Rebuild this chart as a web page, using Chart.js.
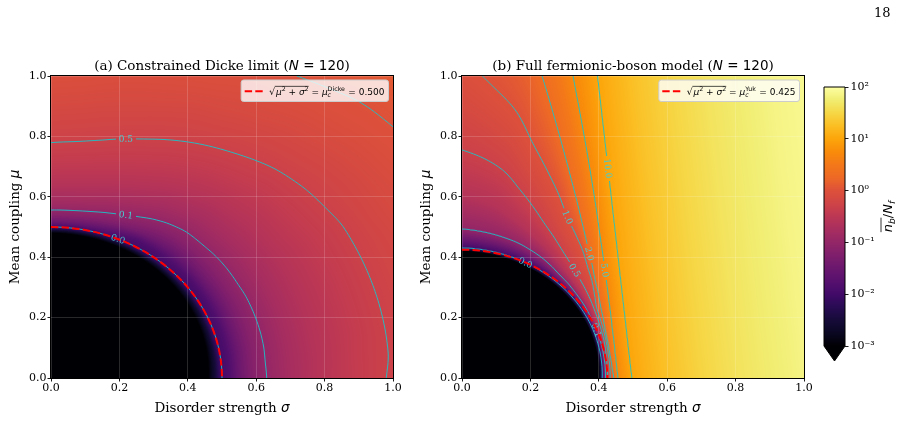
<!DOCTYPE html>
<html><head><meta charset="utf-8"><title>Boson occupation maps</title>
<script src="https://cdn.jsdelivr.net/npm/chart.js@4.4.1/dist/chart.umd.min.js"></script>
<style>
html,body{margin:0;padding:0;background:#fff;overflow:hidden}
#wrap{position:relative;width:907px;height:421px;background:#fff}
#wrap canvas{position:absolute;left:0;top:0}
#page{position:absolute;left:874px;top:5px;font:13px "DejaVu Serif";line-height:15px;color:#000}
</style></head><body>
<div id="wrap">
<canvas id="panelA" width="907" height="421"></canvas>
<canvas id="panelB" width="907" height="421"></canvas>
<canvas id="cbar" width="907" height="421"></canvas>
<div id="page">18</div>
</div>
<script>
// ---------------- data ----------------
const sigmaTicks = [0, 0.2, 0.4, 0.6, 0.8, 1.0];
const muTicks = [0, 0.2, 0.4, 0.6, 0.8, 1.0];
const colorbarTicks = [1e-3, 1e-2, 1e-1, 1, 10, 100];
const contourLevels = [0.01, 0.1, 0.5, 1.0, 2.0, 5.0, 10.0];
const muCritDicke = 0.500;
const muCritYuk = 0.425;

// (a) log10(n_b/N_f) sampled on a polar grid: rows = angle atan(mu/sigma) [deg], columns = radius sqrt(mu^2+sigma^2)
const gridAngleDicke = [0, 5, 10, 15, 20, 25, 30, 35, 40, 45, 50, 55, 60, 65, 70, 75, 80, 85, 90];
const gridRadiusDicke = [0, 0.38, 0.40, 0.41, 0.42, 0.43, 0.44, 0.45, 0.46, 0.48, 0.50, 0.52, 0.55, 0.60, 0.70, 0.80, 0.90, 1.00, 1.10, 1.20, 1.30, 1.42];
const logBosonDicke = [
  [-4,-4,-4,-4,-4,-4,-3.60,-3.30,-3.00,-2.50,-2,-1.85,-1.50,-1.14,-0.77,-0.55,-0.40,-0.28,-0.19,-0.11,-0.04,0.04],
  [-4,-4,-4,-4,-4,-4,-3.62,-3.33,-3.04,-2.53,-2,-1.85,-1.50,-1.13,-0.77,-0.56,-0.40,-0.29,-0.19,-0.11,-0.04,0.04],
  [-4,-4,-4,-4,-4,-4,-3.64,-3.36,-3.08,-2.56,-2,-1.85,-1.51,-1.14,-0.77,-0.56,-0.41,-0.29,-0.19,-0.11,-0.04,0.04],
  [-4,-4,-4,-4,-4,-4,-3.67,-3.38,-3.12,-2.58,-2,-1.85,-1.50,-1.14,-0.77,-0.56,-0.41,-0.29,-0.19,-0.11,-0.04,0.04],
  [-4,-4,-4,-4,-4,-4,-3.69,-3.41,-3.16,-2.61,-2,-1.85,-1.50,-1.14,-0.77,-0.56,-0.41,-0.29,-0.19,-0.11,-0.03,0.04],
  [-4,-4,-4,-4,-4,-4,-3.71,-3.44,-3.19,-2.64,-2,-1.85,-1.50,-1.14,-0.77,-0.56,-0.41,-0.29,-0.19,-0.10,-0.03,0.05],
  [-4,-4,-4,-4,-4,-4,-3.73,-3.47,-3.23,-2.67,-2,-1.85,-1.50,-1.13,-0.77,-0.56,-0.41,-0.29,-0.18,-0.10,-0.02,0.06],
  [-4,-4,-4,-4,-4,-4,-3.76,-3.49,-3.27,-2.69,-2,-1.85,-1.49,-1.13,-0.77,-0.55,-0.40,-0.28,-0.18,-0.09,-0.01,0.07],
  [-4,-4,-4,-4,-4,-4,-3.78,-3.52,-3.31,-2.72,-2,-1.85,-1.49,-1.13,-0.76,-0.55,-0.39,-0.27,-0.17,-0.08,0.00,0.08],
  [-4,-4,-4,-4,-4,-4,-3.80,-3.55,-3.35,-2.75,-2,-1.85,-1.50,-1.12,-0.75,-0.53,-0.38,-0.25,-0.15,-0.06,0.01,0.10],
  [-4,-4,-4,-4,-4,-4,-3.82,-3.58,-3.39,-2.78,-2,-1.85,-1.50,-1.12,-0.74,-0.51,-0.35,-0.23,-0.13,-0.04,0.03,0.11],
  [-4,-4,-4,-4,-4,-4,-3.84,-3.61,-3.43,-2.81,-2,-1.85,-1.47,-1.09,-0.70,-0.48,-0.32,-0.20,-0.10,-0.02,0.05,0.13],
  [-4,-4,-4,-4,-4,-4,-3.87,-3.63,-3.47,-2.83,-2,-1.85,-1.40,-1.03,-0.66,-0.44,-0.29,-0.17,-0.08,0.00,0.07,0.15],
  [-4,-4,-4,-4,-4,-4,-3.89,-3.66,-3.51,-2.86,-2,-1.76,-1.30,-0.95,-0.60,-0.40,-0.26,-0.15,-0.05,0.02,0.09,0.16],
  [-4,-4,-4,-4,-4,-4,-3.91,-3.69,-3.54,-2.89,-2,-1.64,-1.21,-0.88,-0.55,-0.36,-0.23,-0.12,-0.03,0.04,0.10,0.17],
  [-4,-4,-4,-4,-4,-4,-3.93,-3.72,-3.58,-2.92,-2,-1.55,-1.14,-0.83,-0.51,-0.33,-0.20,-0.10,-0.01,0.06,0.12,0.18],
  [-4,-4,-4,-4,-4,-4,-3.96,-3.74,-3.62,-2.94,-2,-1.49,-1.09,-0.78,-0.48,-0.30,-0.18,-0.08,0.00,0.07,0.13,0.19],
  [-4,-4,-4,-4,-4,-4,-3.98,-3.77,-3.66,-2.97,-2,-1.45,-1.06,-0.76,-0.46,-0.28,-0.16,-0.06,0.01,0.08,0.14,0.20],
  [-4,-4,-4,-4,-4,-4,-4.00,-3.80,-3.70,-3.00,-2,-1.45,-1.05,-0.75,-0.45,-0.27,-0.15,-0.05,0.02,0.09,0.14,0.20]
];

// (b) log10(n_b/N_f) given as iso-level radii: for each level, radius sqrt(mu^2+sigma^2) at each angle
const gridAngleFull = [0, 5, 10, 15, 20, 25, 30, 35, 40, 45, 50, 55, 60, 65, 70, 75, 80, 85, 90];
const levelLogFull = [-4, -3, -2, -1.5, -1, -0.6, -0.301, -0.15, 0, 0.301, 0.699, 1.0, 1.15, 1.28, 1.47, 1.62, 1.74, 1.84, 1.98];
const levelRadiusFull = [
  [.390,.3911,.3922,.3933,.3944,.3956,.3967,.3978,.3989,.400,.4011,.4022,.4033,.4044,.4056,.4067,.4078,.4089,.410],
  [.400,.4011,.4022,.4033,.4044,.4056,.4067,.4078,.4089,.410,.4111,.4122,.4133,.4144,.4156,.4167,.4178,.4189,.420],
  [.410,.4111,.4122,.4133,.4144,.4156,.4167,.4178,.4189,.420,.4211,.4222,.4233,.4244,.4256,.4267,.4278,.4289,.430],
  [.4145,.4153,.4162,.4172,.4183,.4201,.4218,.424,.4261,.429,.4319,.4363,.4407,.4445,.4483,.4509,.4535,.4559,.4584],
  [.420,.4205,.421,.422,.423,.4255,.428,.4315,.435,.440,.445,.4535,.462,.469,.476,.4805,.485,.489,.493],
  [.4221,.4228,.4239,.4262,.4285,.432,.4364,.4422,.4484,.4564,.4656,.4785,.4939,.5102,.5302,.5509,.574,.5902,.603],
  [.425,.426,.428,.432,.436,.441,.448,.457,.467,.479,.494,.513,.538,.567,.605,.648,.697,.730,.755],
  [.4287,.4296,.4312,.4347,.4387,.4442,.4516,.4647,.4805,.4975,.5192,.5432,.5731,.6134,.6613,.7178,.7884,.8403,.8923],
  [.433,.434,.435,.438,.442,.448,.456,.474,.497,.520,.550,.580,.616,.670,.730,.803,.900,.975,1.06],
  [.444,.4399,.4391,.4417,.4465,.4562,.4685,.4865,.5075,.5365,.571,.6157,.673,.746,.842,.970,1.145,1.39,1.74],
  [.455,.4532,.4545,.4597,.4676,.4802,.4968,.5185,.546,.5815,.626,.684,.758,.855,.985,1.168,1.43,1.90,2.60],
  [.496,.4936,.4949,.5001,.5093,.5229,.5415,.5658,.5974,.6377,.6895,.7567,.8456,.9665,1.1376,1.3956,1.823,2.655,4.96],
  [.550,.5473,.5488,.5545,.5647,.5798,.6004,.6274,.6624,.7071,.7645,.8391,.9376,1.0717,1.2615,1.5475,2.021,2.944,5.5],
  [.600,.5971,.5987,.6050,.6161,.6325,.6550,.6845,.7226,.7714,.8340,.9153,1.0229,1.1691,1.3761,1.6882,2.205,3.212,6.0],
  [.700,.6966,.6985,.7058,.7188,.7379,.7642,.7985,.8431,.9000,.9730,1.0679,1.1933,1.3640,1.6055,1.9696,2.573,3.747,7.0],
  [.800,.7961,.7982,.8066,.8214,.8433,.8734,.9126,.9635,1.0285,1.1120,1.2204,1.3638,1.5588,1.8349,2.251,2.940,4.283,8.0],
  [.900,.8956,.8980,.9074,.9241,.9488,.9825,1.0267,1.0840,1.1571,1.2510,1.3730,1.5343,1.7537,2.0642,2.532,3.308,4.818,9.0],
  [1.0,.9951,.9978,1.0083,1.0268,1.0542,1.0917,1.1408,1.2044,1.2857,1.3900,1.5256,1.7047,1.9486,2.2936,2.814,3.675,5.353,10.0],
  [1.2,1.1941,1.1974,1.2099,1.2322,1.2650,1.3100,1.3689,1.4453,1.5428,1.6681,1.8307,2.0457,2.3383,2.7523,3.376,4.41,6.424,12.0]
];

// ---------------- styling ----------------
const FONT_SERIF = '"DejaVu Serif", "Liberation Serif", serif';
const FONT_SANS = '"DejaVu Sans", "Liberation Sans", sans-serif';
const INFERNO = ['#000004','#0a0722','#160b39','#280b53','#420a68','#57106e','#6a176e','#7f1e6c','#932667','#a82e5f','#bc3754','#cf4446','#dd513a','#ed6925','#f37819','#f98c0a','#fca50a','#fbbe23','#f6d746','#f1ed71','#fcffa4'];
const RGB = INFERNO.map(h => [parseInt(h.slice(1,3),16), parseInt(h.slice(3,5),16), parseInt(h.slice(5,7),16)]);
const LOG_MIN = Math.log10(colorbarTicks[0]), LOG_MAX = Math.log10(colorbarTicks[colorbarTicks.length-1]);
const CONTOUR_COLOR = 'rgb(25,196,202)';
const LABEL_COLOR = 'rgb(70,205,210)';

function cmap(L) {
  let t = (L - LOG_MIN) / (LOG_MAX - LOG_MIN);
  if (!(t > 0)) t = 0; if (t > 1) t = 1;
  const f = t * (RGB.length - 1);
  const i = Math.min(RGB.length - 2, Math.floor(f));
  const u = f - i, c0 = RGB[i], c1 = RGB[i+1];
  return [c0[0] + (c1[0]-c0[0])*u, c0[1] + (c1[1]-c0[1])*u, c0[2] + (c1[2]-c0[2])*u];
}

// monotone (PCHIP) shading between samples
function pchipSlopes(x, y) {
  const n = x.length, d = [], m = new Array(n);
  for (let k = 0; k < n-1; k++) d.push((y[k+1]-y[k])/(x[k+1]-x[k]));
  m[0] = d[0]; m[n-1] = d[n-2];
  for (let k = 1; k < n-1; k++) {
    if (d[k-1]*d[k] <= 0) m[k] = 0;
    else { const h0 = x[k]-x[k-1], h1 = x[k+1]-x[k]; const w1 = 2*h1+h0, w2 = h1+2*h0; m[k] = (w1+w2)/(w1/d[k-1] + w2/d[k]); }
  }
  return m;
}
function hermite(x, y, m, k, t) {
  const h = x[k+1]-x[k], s = (t - x[k])/h, s2 = s*s, s3 = s2*s;
  return (2*s3-3*s2+1)*y[k] + (s3-2*s2+s)*h*m[k] + (-2*s3+3*s2)*y[k+1] + (s3-s2)*h*m[k+1];
}
function polar(s, mu) {
  return [Math.sqrt(s*s + mu*mu), Math.atan2(Math.max(mu, 0), Math.max(s, 0)) * 180 / Math.PI];
}
// field from a value grid (panel a)
function makeGridField(angles, radii, grid) {
  const slopes = grid.map(row => pchipSlopes(radii, row));
  const rMax = radii[radii.length-1];
  return function(s, mu) {
    let [r, th] = polar(s, mu); if (r > rMax) r = rMax;
    let ri = 0; while (ri < radii.length-2 && r > radii[ri+1]) ri++;
    let ai = 0; while (ai < angles.length-2 && th > angles[ai+1]) ai++;
    const i0 = Math.max(0, ai-1), i1 = Math.min(angles.length-1, ai+2);
    const vals = [], angs = [];
    for (let i = i0; i <= i1; i++) { vals.push(hermite(radii, grid[i], slopes[i], ri, r)); angs.push(angles[i]); }
    return hermite(angs, vals, pchipSlopes(angs, vals), ai - i0, th);
  };
}
// field from iso-level radii (panel b)
function makeLevelField(angles, levels, radiiByLevel) {
  const slopes = radiiByLevel.map(row => pchipSlopes(angles, row));
  return function(s, mu) {
    const [r, th] = polar(s, mu);
    let ai = 0; while (ai < angles.length-2 && th > angles[ai+1]) ai++;
    let prevR = -Infinity, prevL = levels[0];
    for (let i = 0; i < levels.length; i++) {
      let ri = hermite(angles, radiiByLevel[i], slopes[i], ai, th);
      if (ri <= prevR) ri = prevR + 1e-6;
      if (r < ri) {
        if (i === 0) return levels[0];
        return prevL + (levels[i] - prevL) * (r - prevR) / (ri - prevR);
      }
      prevR = ri; prevL = levels[i];
    }
    return levels[levels.length-1];
  };
}

function marching(F, W, H, L, emit) {
  const N = W + 1;
  for (let j = 0; j < H; j++) {
    for (let i = 0; i < W; i++) {
      const a = F[j*N+i], b = F[j*N+i+1], c = F[(j+1)*N+i+1], d = F[(j+1)*N+i];
      const idx = (a > L ? 8 : 0) | (b > L ? 4 : 0) | (c > L ? 2 : 0) | (d > L ? 1 : 0);
      if (idx === 0 || idx === 15) continue;
      const T = () => [i + (L-a)/(b-a), j];
      const Rt = () => [i+1, j + (L-b)/(c-b)];
      const B = () => [i + (L-d)/(c-d), j+1];
      const Lf = () => [i, j + (L-a)/(d-a)];
      switch (idx) {
        case 1: case 14: emit(Lf(), B()); break;
        case 2: case 13: emit(B(), Rt()); break;
        case 3: case 12: emit(Lf(), Rt()); break;
        case 4: case 11: emit(T(), Rt()); break;
        case 5: emit(Lf(), T()); emit(B(), Rt()); break;
        case 6: case 9: emit(T(), B()); break;
        case 7: case 8: emit(Lf(), T()); break;
        case 10: emit(T(), Rt()); emit(Lf(), B()); break;
      }
    }
  }
}

function drawRich(ctx, parts, x, y) {
  for (const p of parts) { ctx.font = p.f; ctx.fillText(p.t, x, y + (p.dy || 0)); x += ctx.measureText(p.t).width; }
  return x;
}
function richWidth(ctx, parts) {
  let w = 0; for (const p of parts) { ctx.font = p.f; w += ctx.measureText(p.t).width; } return w;
}

const TS = 13.5;
const serif = s => s + 'px ' + FONT_SERIF;
const sans = s => s + 'px ' + FONT_SANS;
const isans = s => 'italic ' + s + 'px ' + FONT_SANS;

function drawLegend(ctx, a, supText, value) {
  const fs = 9, ss = 6.3;
  ctx.save();
  ctx.font = sans(fs);
  const wRad = ctx.measureText('\u221A').width;
  const radicand = [{t:'\u03BC', f:isans(fs)}, {t:'2', f:sans(ss), dy:-3.6}, {t:' + ', f:sans(fs)}, {t:'\u03C3', f:isans(fs)}, {t:'2', f:sans(ss), dy:-3.6}];
  const wRc = richWidth(ctx, radicand);
  const mid1 = [{t:' = ', f:sans(fs)}, {t:'\u03BC', f:isans(fs)}];
  const wM1 = richWidth(ctx, mid1);
  ctx.font = sans(ss); const wSup = ctx.measureText(supText).width;
  const tail = [{t:' = ' + value, f:sans(fs)}];
  const wTail = richWidth(ctx, tail);
  const textW = wRad + 1 + wRc + wM1 + wSup + 0.5 + wTail;
  const lineLen = 18, padL = 3.5, gap = 6.5, padR = 4;
  const boxW = padL + lineLen + gap + textW + padR, boxH = 21.5;
  const bx = a.right - 4.5 - boxW, by = a.top + 4;
  ctx.beginPath();
  if (ctx.roundRect) ctx.roundRect(bx, by, boxW, boxH, 2.5); else ctx.rect(bx, by, boxW, boxH);
  ctx.fillStyle = 'rgba(255,255,255,0.8)'; ctx.fill();
  ctx.strokeStyle = '#cccccc'; ctx.lineWidth = 1; ctx.stroke();
  const cy = by + boxH/2 + 0.5;
  ctx.beginPath(); ctx.setLineDash([7.4, 3.2]); ctx.strokeStyle = '#ff0000'; ctx.lineWidth = 2;
  ctx.moveTo(bx + padL, cy); ctx.lineTo(bx + padL + lineLen, cy); ctx.stroke(); ctx.setLineDash([]);
  ctx.fillStyle = '#000'; ctx.textBaseline = 'alphabetic'; ctx.textAlign = 'left';
  let x = bx + padL + lineLen + gap; const base = cy + 3.4;
  ctx.font = sans(fs); ctx.fillText('\u221A', x, base + 0.5); x += wRad + 1;
  const x0 = x - 1.2;
  x = drawRich(ctx, radicand, x, base);
  ctx.beginPath(); ctx.lineWidth = 0.7; ctx.strokeStyle = '#000';
  ctx.moveTo(x0, base - 8.3); ctx.lineTo(x, base - 8.3); ctx.stroke();
  x = drawRich(ctx, mid1, x, base);
  ctx.font = isans(ss); ctx.fillText('c', x, base + 2.2);
  ctx.font = sans(ss); ctx.fillText(supText, x, base - 3.8);
  x += wSup + 0.5;
  drawRich(ctx, tail, x, base);
  ctx.restore();
}

function panelPlugin(spec) {
  const field = spec.field;
  return {
    id: 'panel' + spec.key,
    beforeDraw(chart) {
      const {ctx, chartArea: a, scales: {x: xs, y: ys}} = chart;
      const W = Math.round(a.right - a.left), H = Math.round(a.bottom - a.top);
      const off = document.createElement('canvas'); off.width = W; off.height = H;
      const o = off.getContext('2d'); const img = o.createImageData(W, H);
      for (let j = 0; j < H; j++) {
        const mu = ys.getValueForPixel(a.top + j + 0.5);
        for (let i = 0; i < W; i++) {
          const s = xs.getValueForPixel(a.left + i + 0.5);
          const c = cmap(field(s, mu));
          const k = (j*W + i) * 4;
          img.data[k] = c[0]; img.data[k+1] = c[1]; img.data[k+2] = c[2]; img.data[k+3] = 255;
        }
      }
      o.putImageData(img, 0, 0);
      ctx.drawImage(off, a.left, a.top);
    },
    afterDraw(chart) {
      const {ctx, chartArea: a, scales: {x: xs, y: ys}} = chart;
      const W = Math.round(a.right - a.left), H = Math.round(a.bottom - a.top);
      const f = (X, Y) => field(xs.getValueForPixel(X), ys.getValueForPixel(Y));
      const F = new Float32Array((W+1)*(H+1));
      for (let j = 0; j <= H; j++) for (let i = 0; i <= W; i++) F[j*(W+1)+i] = f(a.left + i, a.top + j);
      ctx.save();
      ctx.beginPath(); ctx.rect(a.left, a.top, a.right - a.left, a.bottom - a.top); ctx.clip();
      ctx.font = serif(9);
      const labels = spec.labels.map(lb => {
        const lv = Math.log10(lb.level);
        let px = xs.getPixelForValue(lb.s), py = ys.getPixelForValue(lb.m);
        for (let n = 0; n < 12; n++) {
          const v = f(px, py) - lv;
          const gx = (f(px+0.5, py) - f(px-0.5, py)), gy = (f(px, py+0.5) - f(px, py-0.5));
          const g2 = gx*gx + gy*gy; if (g2 < 1e-10) break;
          let dx = -v*gx/g2, dy = -v*gy/g2; const dl = Math.hypot(dx, dy);
          if (dl > 3) { dx *= 3/dl; dy *= 3/dl; }
          px += dx; py += dy;
        }
        const h = 2;
        const gx = f(px+h, py) - f(px-h, py), gy = f(px, py+h) - f(px, py-h);
        let ang = Math.atan2(gx, -gy);
        if (ang > Math.PI/2) ang -= Math.PI;
        if (ang <= -Math.PI/2) ang += Math.PI;
        const text = lb.level.toFixed(1);
        return {px, py, ang, text, level: lb.level, w: ctx.measureText(text).width};
      });
      ctx.strokeStyle = CONTOUR_COLOR; ctx.lineWidth = 0.9;
      for (const lvl of contourLevels) {
        const L = Math.log10(lvl);
        const own = labels.filter(l => l.level === lvl);
        ctx.beginPath();
        marching(F, W, H, L, (p, q) => {
          const X1 = a.left + p[0], Y1 = a.top + p[1], X2 = a.left + q[0], Y2 = a.top + q[1];
          const mx = (X1 + X2)/2, my = (Y1 + Y2)/2;
          for (const lb of own) {
            const dx = mx - lb.px, dy = my - lb.py;
            const u = dx*Math.cos(lb.ang) + dy*Math.sin(lb.ang);
            const v = -dx*Math.sin(lb.ang) + dy*Math.cos(lb.ang);
            if (Math.abs(u) < lb.w/2 + 2.5 && Math.abs(v) < 6) return;
          }
          ctx.moveTo(X1, Y1); ctx.lineTo(X2, Y2);
        });
        ctx.stroke();
      }
      ctx.fillStyle = LABEL_COLOR; ctx.textAlign = 'center'; ctx.textBaseline = 'middle'; ctx.font = serif(9);
      for (const lb of labels) {
        ctx.save(); ctx.translate(lb.px, lb.py); ctx.rotate(lb.ang); ctx.fillText(lb.text, 0, 0.5); ctx.restore();
      }
      const x0 = xs.getPixelForValue(0), y0 = ys.getPixelForValue(0);
      const rx = xs.getPixelForValue(spec.muCrit) - x0, ry = y0 - ys.getPixelForValue(spec.muCrit);
      ctx.beginPath(); ctx.setLineDash([7.4, 3.2]); ctx.strokeStyle = '#ff0000'; ctx.lineWidth = 2;
      ctx.ellipse(x0, y0, rx, ry, 0, -Math.PI/2, 0); ctx.stroke(); ctx.setLineDash([]);
      ctx.restore();
      drawLegend(ctx, a, spec.legendSup, spec.muCrit.toFixed(3));
      ctx.save(); ctx.strokeStyle = '#000'; ctx.lineWidth = 1;
      ctx.strokeRect(a.left - 0.5, a.top - 0.5, a.right - a.left + 1, a.bottom - a.top + 1);
      ctx.fillStyle = '#000'; ctx.textBaseline = 'alphabetic'; ctx.textAlign = 'left';
      const cx = (a.left + a.right)/2, cyy = (a.top + a.bottom)/2;
      const tParts = [{t: spec.title, f: serif(TS)}, {t:'N', f:isans(TS)}, {t:' = 120', f:sans(TS)}, {t:')', f:serif(TS)}];
      drawRich(ctx, tParts, cx - richWidth(ctx, tParts)/2, 70);
      const xl = [{t:'Disorder strength ', f:serif(TS)}, {t:'\u03C3', f:isans(TS)}];
      drawRich(ctx, xl, cx - richWidth(ctx, xl)/2, 412);
      const yl = [{t:'Mean coupling ', f:serif(TS)}, {t:'\u03BC', f:isans(TS)}];
      ctx.translate(a.left - 32, cyy); ctx.rotate(-Math.PI/2);
      drawRich(ctx, yl, -richWidth(ctx, yl)/2, 0);
      ctx.restore();
    }
  };
}

function panelOptions(spec) {
  const tickFont = {family: FONT_SERIF, size: 11};
  const grid = {color: 'rgba(255,255,255,0.2)', lineWidth: 0.8, tickColor: '#000', tickLength: 3.5, tickWidth: 0.9};
  return {
    responsive: false, animation: false, events: [],
    layout: {padding: {left: spec.padLeft, right: spec.padRight, top: 76, bottom: 0}},
    plugins: {legend: {display: false}, tooltip: {enabled: false}, title: {display: false}},
    scales: {
      x: {type: 'linear', position: 'bottom', min: 0, max: 1,
        afterBuildTicks: s => { s.ticks = sigmaTicks.map(v => ({value: v})); },
        afterFit: s => { s.height = 43; },
        ticks: {autoSkip: false, maxRotation: 0, padding: 0.5, color: '#000', font: tickFont, callback: v => Number(v).toFixed(1)},
        grid: grid, border: {display: false}},
      y: {type: 'linear', position: 'left', min: 0, max: 1,
        afterBuildTicks: s => { s.ticks = muTicks.map(v => ({value: v})); },
        afterFit: s => { s.width = 51; },
        ticks: {autoSkip: false, padding: 1, color: '#000', font: tickFont, callback: v => Number(v).toFixed(1)},
        grid: grid, border: {display: false}}
    }
  };
}

const specA = {key: 'A', field: makeGridField(gridAngleDicke, gridRadiusDicke, logBosonDicke), padLeft: 0, padRight: 514,
  muCrit: muCritDicke, legendSup: 'Dicke', title: '(a) Constrained Dicke limit (',
  labels: [{s: 0.219, m: 0.786, level: 0.5}, {s: 0.219, m: 0.537, level: 0.1}, {s: 0.197, m: 0.463, level: 0.01}]};
const specB = {key: 'B', field: makeLevelField(gridAngleFull, levelLogFull, levelRadiusFull), padLeft: 411, padRight: 103,
  muCrit: muCritYuk, legendSup: 'Yuk', title: '(b) Full fermionic-boson model (',
  labels: [{s: 0.428, m: 0.694, level: 10}, {s: 0.423, m: 0.358, level: 5}, {s: 0.375, m: 0.412, level: 2},
           {s: 0.308, m: 0.532, level: 1}, {s: 0.332, m: 0.358, level: 0.5}, {s: 0.394, m: 0.159, level: 0.1},
           {s: 0.187, m: 0.385, level: 0.01}]};

new Chart(document.getElementById('panelA'), {type: 'scatter', data: {datasets: []}, options: panelOptions(specA), plugins: [panelPlugin(specA)]});
new Chart(document.getElementById('panelB'), {type: 'scatter', data: {datasets: []}, options: panelOptions(specB), plugins: [panelPlugin(specB)]});

// ---------------- colorbar ----------------
const SUP = {'-': '\u207B', '0': '\u2070', '1': '\u00B9', '2': '\u00B2', '3': '\u00B3'};
const cbarPlugin = {
  id: 'cbarFill',
  beforeDraw(chart) {
    const {ctx, chartArea: a, scales: {y}} = chart;
    for (let py = Math.floor(a.top); py < Math.ceil(a.bottom); py++) {
      const c = cmap(Math.log10(y.getValueForPixel(py + 0.5)));
      ctx.fillStyle = 'rgb(' + c.map(Math.round).join(',') + ')';
      ctx.fillRect(a.left, py, a.right - a.left, 1);
    }
    const c0 = cmap(-Infinity);
    ctx.beginPath(); ctx.moveTo(a.left, a.bottom); ctx.lineTo(a.right, a.bottom); ctx.lineTo((a.left + a.right)/2, a.bottom + 15); ctx.closePath();
    ctx.fillStyle = 'rgb(' + c0.map(Math.round).join(',') + ')'; ctx.fill();
  },
  afterDraw(chart) {
    const {ctx, chartArea: a} = chart;
    ctx.save();
    ctx.beginPath(); ctx.moveTo(a.left, a.top); ctx.lineTo(a.right, a.top); ctx.lineTo(a.right, a.bottom);
    ctx.lineTo((a.left + a.right)/2, a.bottom + 15); ctx.lineTo(a.left, a.bottom); ctx.closePath();
    ctx.strokeStyle = '#000'; ctx.lineWidth = 1; ctx.stroke();
    ctx.fillStyle = '#000'; ctx.textBaseline = 'alphabetic';
    const fs = 13, ss = 9.1;
    const parts = [{t:'n', f:isans(fs)}, {t:'b', f:isans(ss), dy: 2.6}, {t:'/', f:sans(fs)}, {t:'N', f:isans(fs)}, {t:'f', f:isans(ss), dy: 2.6}];
    const w = richWidth(ctx, parts);
    ctx.font = isans(fs); const wn = ctx.measureText('n').width; ctx.font = isans(ss); const wb = ctx.measureText('b').width;
    ctx.translate(892, (a.top + a.bottom)/2); ctx.rotate(-Math.PI/2);
    const sx = -w/2;
    drawRich(ctx, parts, sx, 0);
    ctx.beginPath(); ctx.lineWidth = 0.8; ctx.strokeStyle = '#000';
    ctx.moveTo(sx, -11); ctx.lineTo(sx + wn + wb + 0.5, -11); ctx.stroke();
    ctx.restore();
  }
};
new Chart(document.getElementById('cbar'), {
  type: 'scatter', data: {datasets: []},
  options: {
    responsive: false, animation: false, events: [],
    layout: {padding: {left: 824, right: 22, top: 87, bottom: 75}},
    plugins: {legend: {display: false}, tooltip: {enabled: false}},
    scales: {
      x: {display: false, min: 0, max: 1},
      y: {type: 'logarithmic', position: 'right', min: colorbarTicks[0], max: colorbarTicks[colorbarTicks.length-1],
        afterBuildTicks: s => { s.ticks = colorbarTicks.map(v => ({value: v, major: true})); },
        afterFit: s => { s.width = 40; },
        ticks: {autoSkip: false, padding: 2, color: '#000', font: {family: FONT_SERIF, size: 11},
          callback: v => '10' + String(Math.round(Math.log10(v))).split('').map(ch => SUP[ch]).join('')},
        grid: {drawOnChartArea: false, color: '#000', tickColor: '#000', tickLength: 3.5, tickWidth: 0.9},
        border: {display: false}}
    }
  },
  plugins: [cbarPlugin]
});
</script>
</body></html>
